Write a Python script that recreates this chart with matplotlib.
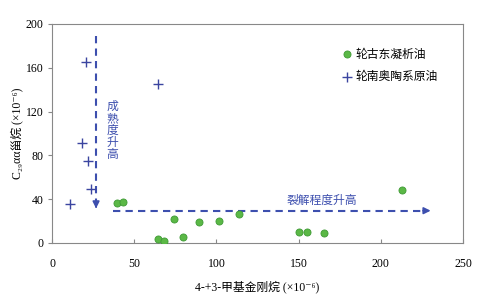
import matplotlib
matplotlib.use("Agg")
import matplotlib.pyplot as plt

plt.rcParams['font.family'] = ['Liberation Serif', 'Noto Sans CJK SC', 'DejaVu Sans']

# Data
green_x = [39.3, 43, 64.5, 68, 74, 79.5, 89.6, 101.6, 113.5, 150.5, 155, 165.5, 213]
green_y = [36.2, 37.7, 3.6, 2.0, 22, 5.2, 19, 20.4, 26.8, 10, 10, 9.4, 48.7]
cross_x = [11, 18, 20.5, 21.7, 23.5, 64.5]
cross_y = [35.6, 91.6, 165.6, 75, 49, 145]
labels = ['轮古东凝析油', '轮南奥陶系原油']
x_ticks = [0, 50, 100, 150, 200, 250]
y_ticks = [0, 40, 80, 120, 160, 200]

green = '#5bb846'
green_edge = '#3f9a35'
blue = '#3b45a0'
arrow_c = '#3d4fae'

fig = plt.figure(figsize=(4.78, 2.98), dpi=100)
ax = fig.add_axes([0.1088, 0.1846, 0.8598, 0.7349])

ax.scatter(green_x, green_y, s=26, color=green, edgecolors=green_edge, linewidths=0.6,
           label=labels[0], zorder=3)
ax.scatter(cross_x, cross_y, s=45, marker='+', color=blue, linewidths=1.0,
           label=labels[1], zorder=3)

# vertical arrow
ax.plot([26.8, 26.8], [188.8, 36], ls=(0, (3.5, 2.5)), color=arrow_c, lw=1.5, zorder=2)
ax.annotate('', xy=(26.8, 29), xytext=(26.8, 37),
            arrowprops=dict(arrowstyle='-|>', color=arrow_c, lw=1.2, mutation_scale=10))
# horizontal arrow
ax.plot([37, 225], [29.5, 29.5], ls=(0, (3.5, 2.5)), color=arrow_c, lw=1.5, zorder=2)
ax.annotate('', xy=(232, 29.5), xytext=(224, 29.5),
            arrowprops=dict(arrowstyle='-|>', color=arrow_c, lw=1.2, mutation_scale=10))

ax.text(36.5, 102, '成\n熟\n度\n升\n高', color=arrow_c, fontsize=8.5, ha='center', va='center',
        linespacing=1.0)
ax.text(164, 38, '裂解程度升高', color=arrow_c, fontsize=8.5, ha='center', va='center')

ax.set_xlim(0, 250)
ax.set_ylim(0, 200)
ax.set_xticks(x_ticks)
ax.set_yticks(y_ticks)
ax.tick_params(axis='x', direction='in', length=3, labelsize=8.5, pad=11, color='#888888')
ax.tick_params(axis='y', direction='out', length=3, labelsize=8.5, pad=3, color='#888888')
for s in ax.spines.values():
    s.set_color('#888888')
    s.set_linewidth(0.8)

ax.set_xlabel('4-+3-甲基金刚烷 (×10⁻⁶)', fontsize=8.5, labelpad=7)
ax.set_ylabel('C₂₉αα甾烷 (×10⁻⁶)', fontsize=8.5, labelpad=2)

leg = ax.legend(loc='upper left', bbox_to_anchor=(0.69, 0.91), frameon=False, fontsize=8.5,
                handletextpad=0.1, handlelength=1.2, labelspacing=0.9, borderaxespad=0)

fig.savefig('out.png', dpi=100)
